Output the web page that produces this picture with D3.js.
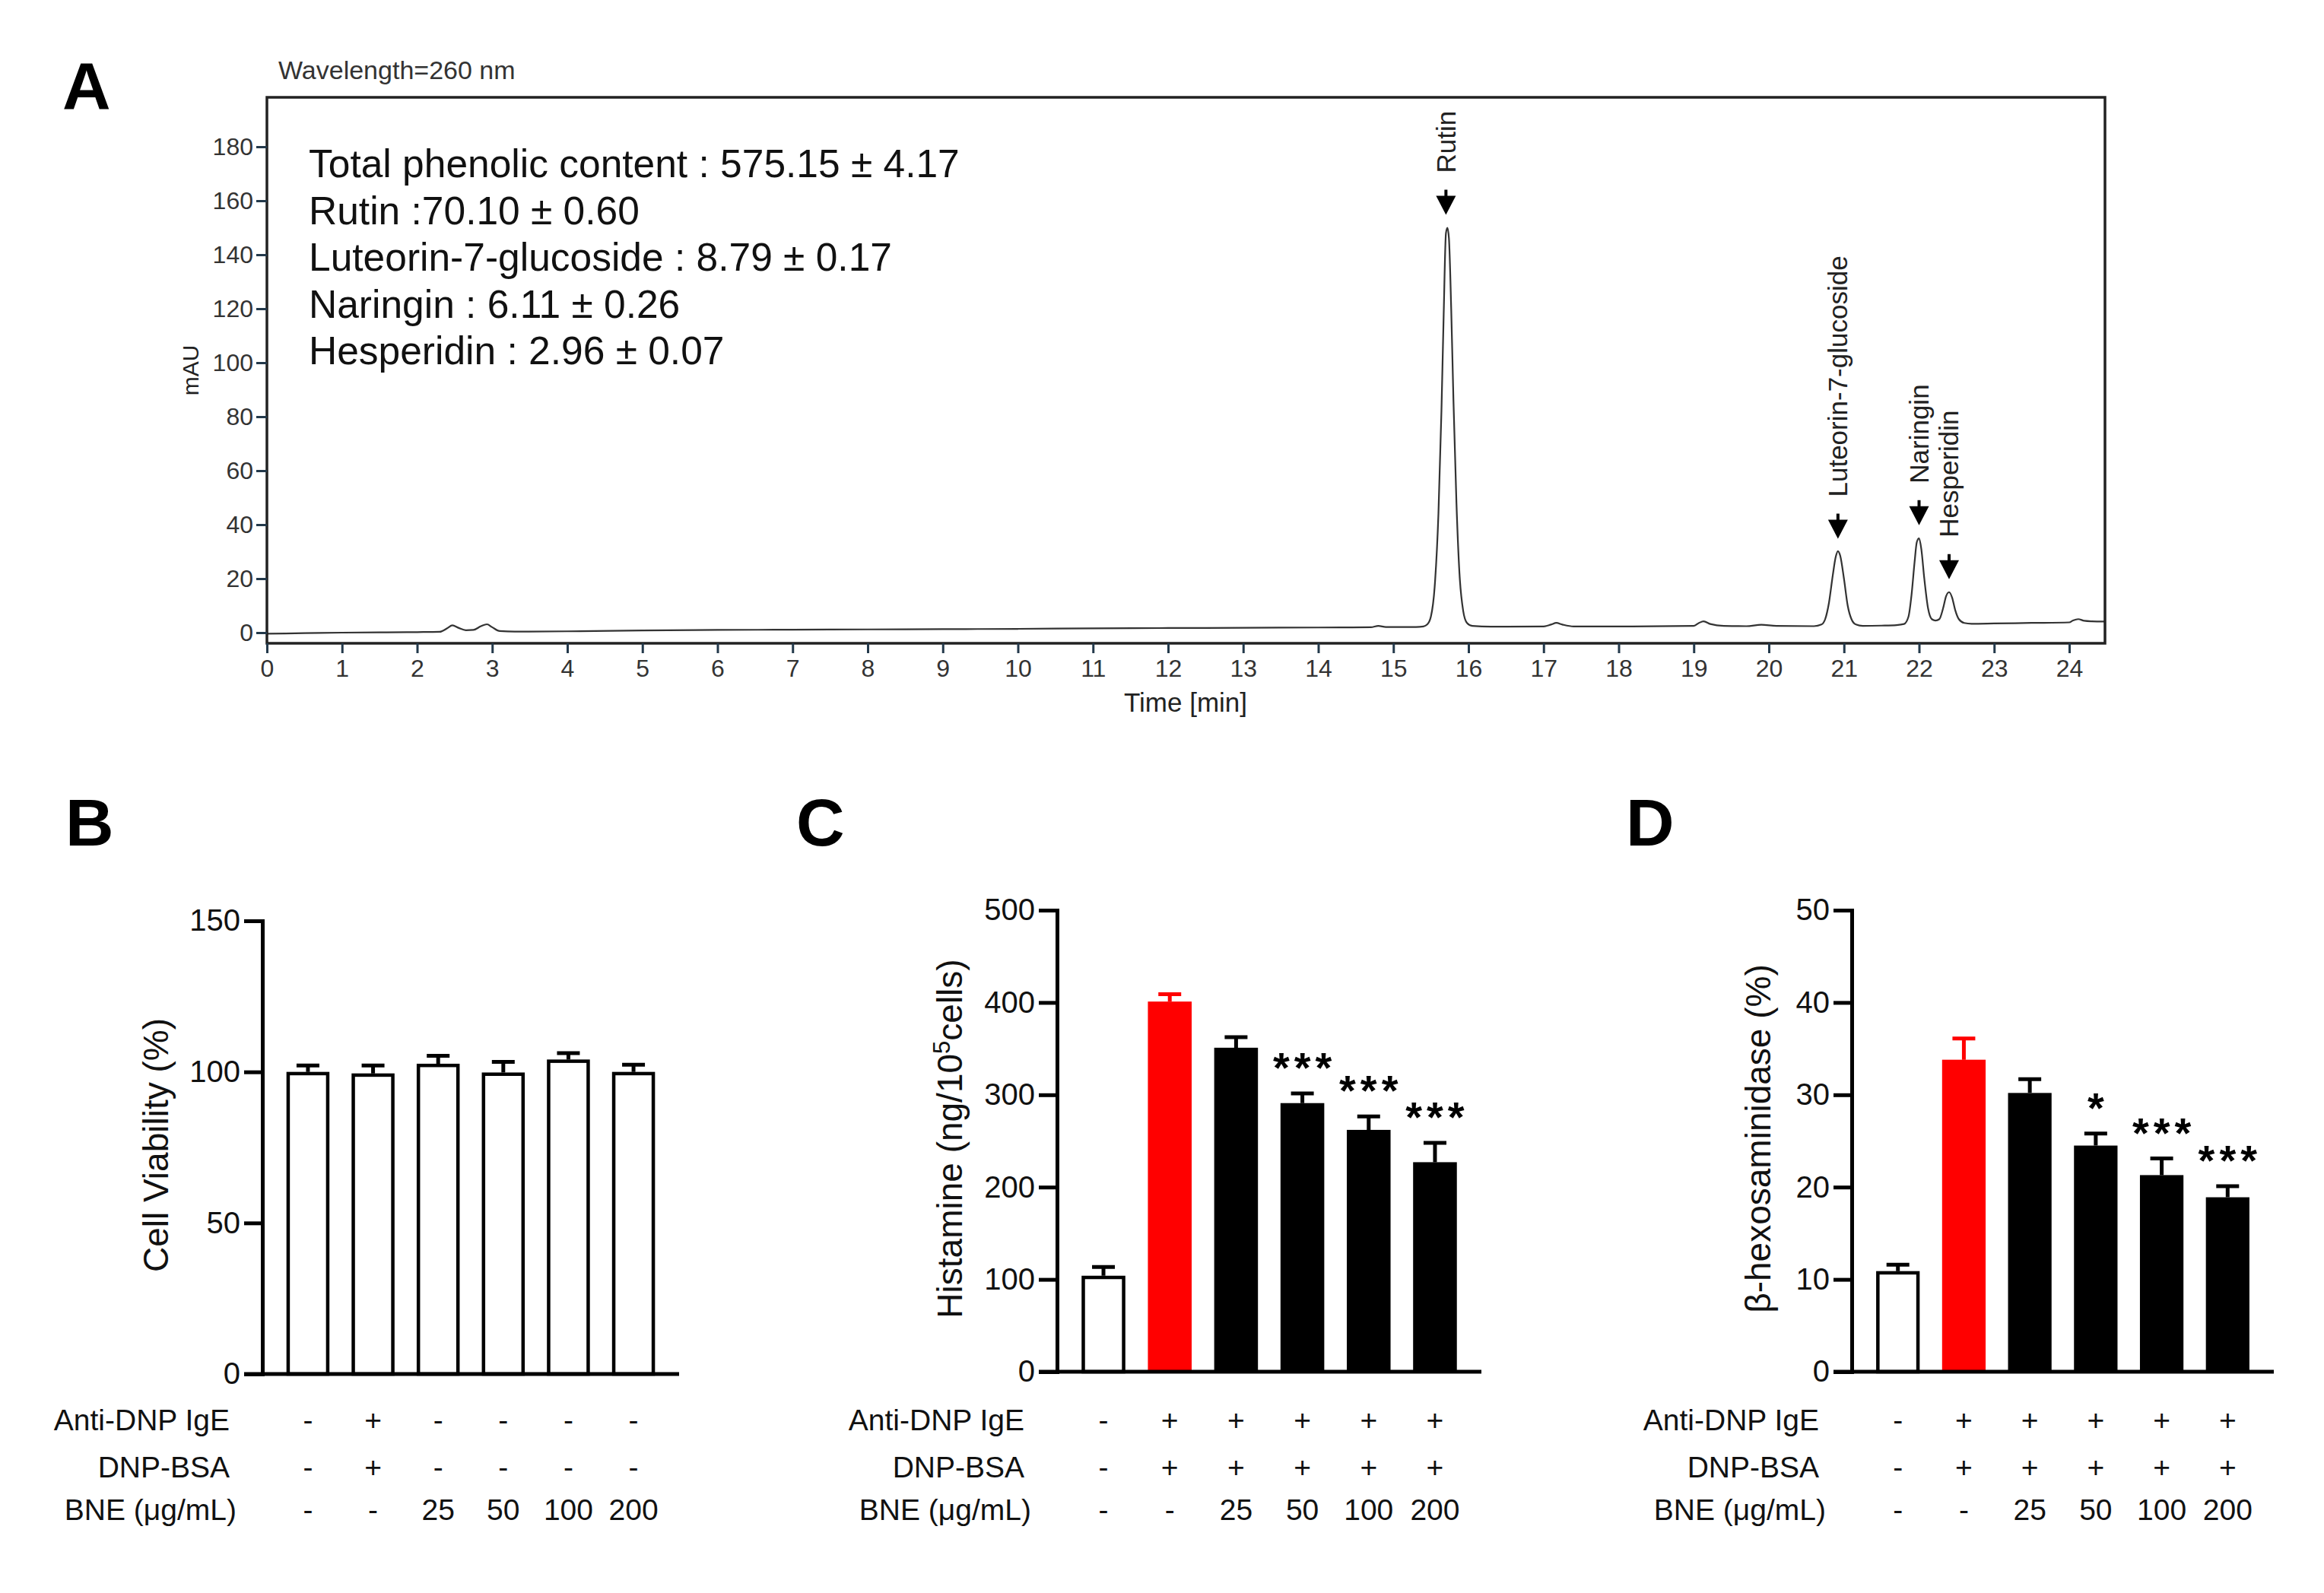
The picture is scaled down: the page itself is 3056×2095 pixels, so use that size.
<!DOCTYPE html>
<html>
<head>
<meta charset="utf-8">
<script src="https://cdn.jsdelivr.net/npm/d3@7"></script>
<style>
  body { margin: 0; background: #fff; }
  svg { display: block; font-family: 'Liberation Sans', Arial, sans-serif; }
</style>
</head>
<body>
<script>
/* global d3 */

// ---- panel A : HPLC trace (min, mAU) ----
const traceTime = [
  0.00, 0.50, 1.00, 1.50, 2.00, 2.30, 2.40, 2.47, 2.55, 2.65, 2.75, 2.85, 2.93, 3.00, 3.10, 3.30,
  4.00, 5.00, 6.00, 7.00, 8.00, 9.00, 10.00, 11.00, 12.00, 13.00, 14.00, 14.70, 14.80, 14.90,
  15.30, 15.40, 15.45, 15.50, 15.55, 15.60, 15.64, 15.67, 15.70, 15.72, 15.74, 15.77, 15.80, 15.84,
  15.88, 15.93, 15.98, 16.05, 16.30, 17.00, 17.10, 17.17, 17.25, 17.40, 18.00, 19.00, 19.07, 19.13,
  19.22, 19.40, 19.70, 19.90, 20.10, 20.60, 20.70, 20.75, 20.80, 20.85, 20.89, 20.92, 20.95, 21.00,
  21.05, 21.10, 21.16, 21.25, 21.50, 21.70, 21.80, 21.86, 21.90, 21.94, 21.97, 22.00, 22.03, 22.07,
  22.12, 22.17, 22.22, 22.27, 22.32, 22.36, 22.40, 22.44, 22.48, 22.53, 22.60, 22.70, 23.00, 23.50,
  24.00, 24.05, 24.12, 24.20, 24.30, 24.47
]
const traceSignal = [
  -0.4, -0.2, 0.0, 0.1, 0.2, 0.3, 1.6, 2.7, 1.8, 0.9, 1.0, 2.4, 3.1, 2.0, 0.6, 0.4,
  0.5, 0.8, 1.0, 1.1, 1.2, 1.3, 1.4, 1.6, 1.7, 1.8, 1.9, 2.0, 2.5, 2.1,
  2.1, 2.3, 3.0, 6, 17, 44, 82, 118, 148, 150, 146, 120, 86, 48,
  22, 8, 3.6, 2.5, 2.2, 2.3, 3.0, 3.6, 3.0, 2.3, 2.3, 2.5, 3.6, 4.2,
  3.2, 2.5, 2.4, 2.9, 2.5, 2.4, 3.0, 5, 11, 21, 28, 30.2, 28.5, 20,
  10, 5, 3.0, 2.5, 2.6, 2.8, 3.2, 6, 14, 26, 33.5, 35, 31, 20,
  9, 5, 4.5, 5, 9, 13.5, 15, 13, 8.5, 5, 3.6, 3.3, 3.4, 3.6,
  3.8, 4.5, 5.0, 4.4, 4.2, 4.1
]
const timeTicks = [0, 1, 2, 3, 4, 5, 6, 7, 8, 9, 10, 11, 12, 13, 14, 15, 16, 17, 18, 19, 20, 21, 22, 23, 24]
const mauTicks = [0, 20, 40, 60, 80, 100, 120, 140, 160, 180]
const peakNames = ['Rutin', 'Luteorin-7-glucoside', 'Naringin', 'Hesperidin']
const peakTimes = [15.70, 20.92, 22.00, 22.40]
const peakHeights = [150, 30, 35, 15]
const contentLines = [
  'Total phenolic content : 575.15 ± 4.17',
  'Rutin :70.10 ± 0.60',
  'Luteorin-7-glucoside : 8.79 ± 0.17',
  'Naringin : 6.11 ± 0.26',
  'Hesperidin : 2.96 ± 0.07'
]

// ---- panels B, C, D ----
const conditionNames = ['Anti-DNP IgE', 'DNP-BSA', 'BNE (μg/mL)']
const igeRowB = ['-', '+', '-', '-', '-', '-']
const bsaRowB = ['-', '+', '-', '-', '-', '-']
const igeRow = ['-', '+', '+', '+', '+', '+']
const bsaRow = ['-', '+', '+', '+', '+', '+']
const bneRow = ['-', '-', '25', '50', '100', '200']

const viability = [100, 99.5, 102.7, 99.8, 104.1, 100]
const viabilityErr = [2.1, 2.6, 2.6, 3.5, 2.1, 2.4]
const viabilityTicks = [0, 50, 100, 150]

const histamine = [104, 401, 351, 291, 262, 227]
const histamineErr = [9.5, 8, 11.5, 10.5, 14.5, 21]
const histamineTicks = [0, 100, 200, 300, 400, 500]
const histamineStars = ['', '', '', '***', '***', '***']

const hexosaminidase = [10.9, 33.8, 30.2, 24.5, 21.3, 18.9]
const hexosaminidaseErr = [0.7, 2.3, 1.5, 1.3, 1.8, 1.2]
const hexosaminidaseTicks = [0, 10, 20, 30, 40, 50]
const hexosaminidaseStars = ['', '', '', '*', '***', '***']

const W = 3056
const H = 2095

const svg = d3.select('body').append('svg')
  .attr('width', W)
  .attr('height', H)
svg.append('rect').attr('width', W).attr('height', H).attr('fill', '#fff')

function panelLetter (letter, x, y) {
  svg.append('text')
    .attr('x', x).attr('y', y)
    .attr('font-size', 88)
    .attr('font-weight', 'bold')
    .attr('fill', '#000')
    .text(letter)
}

// ================= panel A =================
const frameA = { left: 351, right: 2768, top: 128, bottom: 846 }
const xA = d3.scaleLinear().domain([0, 24]).range([351, 2721])
const yA = d3.scaleLinear().domain([0, 180]).range([832, 193])

panelLetter('A', 82, 143)

svg.append('text')
  .attr('x', 366).attr('y', 104)
  .attr('font-size', 34)
  .attr('fill', '#333')
  .text('Wavelength=260 nm')

const trace = traceTime.map((t, i) => [t, traceSignal[i]])
svg.append('path')
  .datum(trace)
  .attr('fill', 'none')
  .attr('stroke', '#333')
  .attr('stroke-width', 2.2)
  .attr('d', d3.line().x(d => xA(d[0])).y(d => yA(d[1])).curve(d3.curveMonotoneX))

svg.append('rect')
  .attr('x', frameA.left).attr('y', frameA.top)
  .attr('width', frameA.right - frameA.left)
  .attr('height', frameA.bottom - frameA.top)
  .attr('fill', 'none')
  .attr('stroke', '#222')
  .attr('stroke-width', 3.5)

const axA = svg.append('g')
axA.append('g')
  .attr('transform', `translate(0,${frameA.bottom})`)
  .call(d3.axisBottom(xA).tickValues(timeTicks).tickSize(13).tickSizeOuter(0).tickPadding(8).tickFormat(d3.format('d')))
axA.append('g')
  .attr('transform', `translate(${frameA.left},0)`)
  .call(d3.axisLeft(yA).tickValues(mauTicks).tickSize(14).tickSizeOuter(0).tickPadding(4).tickFormat(d3.format('d')))
axA.selectAll('.domain').remove()
axA.selectAll('g').attr('font-size', 32).attr('font-family', null)
axA.selectAll('.tick line').attr('stroke', '#23394b').attr('stroke-width', 3)
axA.selectAll('.tick text').attr('fill', '#333')

svg.append('text')
  .attr('x', 1559).attr('y', 936)
  .attr('text-anchor', 'middle')
  .attr('font-size', 35)
  .attr('fill', '#222')
  .text('Time [min]')

svg.append('text')
  .attr('transform', 'translate(250,487) rotate(-90)')
  .attr('text-anchor', 'middle')
  .attr('dy', '0.35em')
  .attr('font-size', 30)
  .attr('fill', '#222')
  .text('mAU')

svg.append('g').selectAll('text')
  .data(contentLines)
  .join('text')
  .attr('x', 406)
  .attr('y', (d, i) => 233 + i * 61.5)
  .attr('font-size', 51.5)
  .attr('fill', '#111')
  .text(d => d)

// peak arrows and names
const peaks = svg.append('g').selectAll('g')
  .data(peakNames.map((name, i) => ({ name, t: peakTimes[i], h: peakHeights[i] })))
  .join('g')
  .attr('transform', d => `translate(${xA(d.t)},${yA(d.h) - 17})`)
peaks.append('line')
  .attr('y1', -33).attr('y2', -22)
  .attr('stroke', '#000').attr('stroke-width', 4)
peaks.append('path')
  .attr('d', 'M-13,-25L13,-25L0,0Z')
  .attr('fill', '#000')
peaks.append('text')
  .attr('transform', 'translate(0,-55) rotate(-90)')
  .attr('dy', '0.35em')
  .attr('font-size', 35)
  .attr('fill', '#222')
  .text(d => d.name)

// ================= panels B, C, D =================
const rowY = [1867, 1929, 1985]

function barPanel (cfg) {
  const g = svg.append('g')
  const x = d3.scaleBand()
    .domain(d3.range(cfg.values.length))
    .range([cfg.left, cfg.right])
    .paddingInner(0.34)
    .paddingOuter(0.37)
  const y = d3.scaleLinear().domain([0, cfg.max]).range([cfg.bottom, cfg.top])
  const bw = x.bandwidth()
  const sw = 4.5
  const bars = cfg.values.map((v, i) => ({ i, v, e: cfg.errors[i], fill: cfg.fills[i], stars: cfg.stars ? cfg.stars[i] : '' }))
  const edge = d => d.fill === '#fff' ? '#000' : d.fill

  // error bars (upper only)
  g.selectAll('.err')
    .data(bars)
    .join('path')
    .attr('fill', 'none')
    .attr('stroke', edge)
    .attr('stroke-width', 5)
    .attr('d', d => {
      const cx = x(d.i) + bw / 2
      return `M${cx},${y(d.v)}V${y(d.v + d.e)}M${cx - 15},${y(d.v + d.e)}H${cx + 15}`
    })

  g.selectAll('.bar')
    .data(bars)
    .join('rect')
    .attr('x', d => d.fill === '#fff' ? x(d.i) + sw / 2 : x(d.i))
    .attr('y', d => d.fill === '#fff' ? y(d.v) + sw / 2 : y(d.v))
    .attr('width', d => d.fill === '#fff' ? bw - sw : bw)
    .attr('height', d => cfg.bottom - y(d.v) - (d.fill === '#fff' ? sw / 2 : 0))
    .attr('fill', d => d.fill)
    .attr('stroke', d => d.fill === '#fff' ? '#000' : 'none')
    .attr('stroke-width', sw)

  g.selectAll('.stars')
    .data(bars.filter(d => d.stars))
    .join('text')
    .attr('x', d => x(d.i) + bw / 2 + 3)
    .attr('y', d => y(d.v + d.e) - 15)
    .attr('text-anchor', 'middle')
    .attr('font-size', 56)
    .attr('font-weight', 'bold')
    .attr('letter-spacing', 6)
    .text(d => d.stars)

  const ax = g.append('g')
    .attr('transform', `translate(${cfg.left},0)`)
    .call(d3.axisLeft(y).tickValues(cfg.ticks).tickSize(24).tickSizeOuter(0).tickPadding(5))
  ax.attr('font-size', 40).attr('font-family', null)
  ax.select('.domain').attr('stroke-width', 5).attr('stroke-linecap', 'square')
  ax.selectAll('.tick line').attr('stroke-width', 5)
  ax.selectAll('.tick text').attr('fill', '#111')

  g.append('line')
    .attr('x1', cfg.left - 24).attr('x2', cfg.right)
    .attr('y1', cfg.bottom).attr('y2', cfg.bottom)
    .attr('stroke', '#000')
    .attr('stroke-width', 5)

  // y axis title
  const title = g.append('text')
    .attr('transform', `translate(${cfg.titleX},${(cfg.top + cfg.bottom) / 2 - 3}) rotate(-90)`)
    .attr('text-anchor', 'middle')
    .attr('dy', '0.35em')
    .attr('font-size', 46)
    .attr('fill', '#111')
  cfg.title.forEach(part => {
    title.append('tspan')
      .attr('dy', part.sup ? -16 : (part.after ? 16 : 0))
      .attr('font-size', part.sup ? 31 : 46)
      .text(part.text)
  })

  // condition table
  cfg.rows.forEach((row, k) => {
    g.append('text')
      .attr('x', cfg.left - (k === 2 ? 34 : 43))
      .attr('y', rowY[k])
      .attr('dy', '0.35em')
      .attr('text-anchor', 'end')
      .attr('font-size', 39)
      .attr('fill', '#111')
      .text(conditionNames[k])
    g.selectAll(`.row${k}`)
      .data(row)
      .join('text')
      .attr('x', (d, i) => x(i) + bw / 2)
      .attr('y', rowY[k])
      .attr('dy', '0.35em')
      .attr('text-anchor', 'middle')
      .attr('font-size', 39)
      .attr('fill', '#111')
      .text(d => d)
  })
}

panelLetter('B', 86, 1112)
barPanel({
  left: 345, right: 893, top: 1211, bottom: 1807,
  max: 150, ticks: viabilityTicks,
  values: viability, errors: viabilityErr,
  fills: ['#fff', '#fff', '#fff', '#fff', '#fff', '#fff'],
  titleX: 221,
  title: [{ text: 'Cell Viability (%)' }],
  rows: [igeRowB, bsaRowB, bneRow]
})

panelLetter('C', 1047, 1112)
barPanel({
  left: 1390, right: 1948, top: 1197, bottom: 1804,
  max: 500, ticks: histamineTicks,
  values: histamine, errors: histamineErr, stars: histamineStars,
  fills: ['#fff', '#ff0000', '#000', '#000', '#000', '#000'],
  titleX: 1265,
  title: [{ text: 'Histamine (ng/10' }, { text: '5', sup: true }, { text: 'cells)', after: true }],
  rows: [igeRow, bsaRow, bneRow]
})

panelLetter('D', 2138, 1112)
barPanel({
  left: 2435, right: 2990, top: 1197, bottom: 1804,
  max: 50, ticks: hexosaminidaseTicks,
  values: hexosaminidase, errors: hexosaminidaseErr, stars: hexosaminidaseStars,
  fills: ['#fff', '#ff0000', '#000', '#000', '#000', '#000'],
  titleX: 2328,
  title: [{ text: 'β-hexosaminidase (%)' }],
  rows: [igeRow, bsaRow, bneRow]
})
</script>
</body>
</html>
